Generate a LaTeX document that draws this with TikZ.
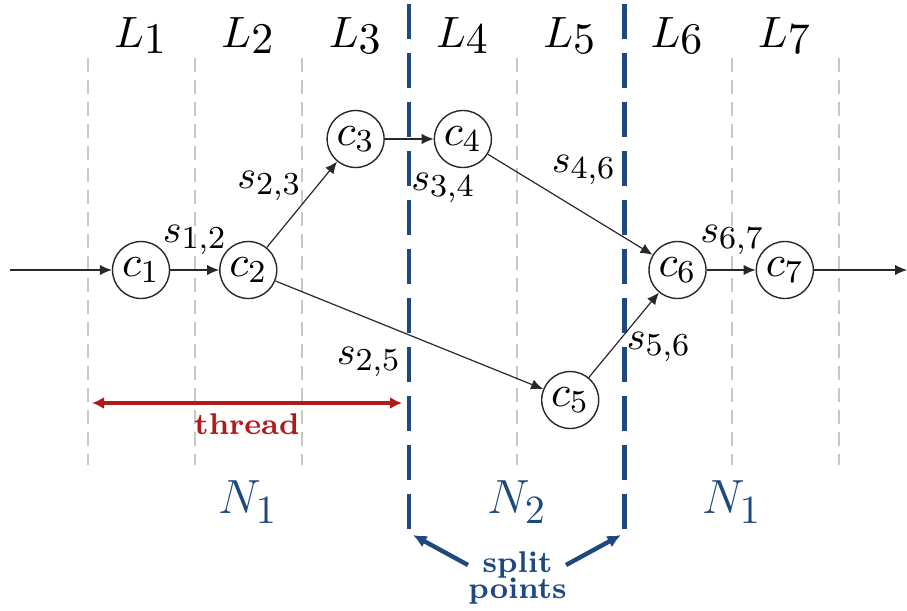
\documentclass[tikz,border=0pt]{standalone}
\DeclareMathSizes{10}{10}{8}{6}
\DeclareMathSizes{12}{12}{10}{7}
\usetikzlibrary{arrows.meta}
\definecolor{dblue}{RGB}{31,73,125}
\definecolor{tred}{RGB}{178,26,26}
\definecolor{lgray}{RGB}{200,200,200}
\definecolor{edgec}{RGB}{40,40,40}
\begin{document}
\begin{tikzpicture}[x=0.25pt,y=-0.25pt,
  comp/.style={circle,draw=edgec,line width=0.35pt,minimum size=14.25pt,inner sep=0pt,font=\fontsize{10.95}{13}\selectfont},
  lbl/.style={inner sep=0pt,font=\fontsize{10}{12}\selectfont},
  layerlbl/.style={inner sep=0pt,anchor=base,font=\fontsize{10.95}{13}\selectfont},
  edge/.style={draw=edgec,line width=0.3pt,-{Latex[length=3pt,width=2.6pt]}},
  layerline/.style={draw=lgray,line width=0.5pt,dash pattern=on 3.6pt off 1.9pt},
  splitline/.style={draw=dblue,line width=1.2pt,dash pattern=on 8.75pt off 3.5pt},
  netlbl/.style={inner sep=0pt,text=dblue,font=\fontsize{12}{14}\selectfont},
  threadarrow/.style={draw=tred,line width=1pt,{Latex[length=3pt,width=3pt]}-{Latex[length=3pt,width=3pt]}},
  splitarrow/.style={draw=dblue,line width=1.1pt,-{Latex[length=3.4pt,width=3.2pt]}},
  boldlbl/.style={inner sep=0pt,font=\fontsize{7.5}{6.7}\selectfont\bfseries}
]
\useasboundingbox (0,0) rectangle (907,610);

% layer separators
\foreach \x in {87.5,194.8,302.1,516.8,731.5,838.8}
  \draw[layerline] (\x,58) -- (\x,465);

% split lines
\coordinate (spA1) at (409,4);
\coordinate (spA2) at (409,533);
\coordinate (spB1) at (624.5,4);
\coordinate (spB2) at (624.5,533);
\draw[splitline] (spA1) -- (spA2);
\draw[splitline] (spB1) -- (spB2);

% layer labels
\foreach \i [evaluate=\i as \x using 141+107.3*(\i-1)] in {1,...,7}
  \node[layerlbl] (L\i) at (\x,47) {$L_{\smash{\textstyle\i}}$};

% components
\node[comp] (c1) at (141,270) {$c_1$};
\node[comp] (c2) at (248.3,270) {$c_2$};
\node[comp] (c3) at (355.6,139) {$c_3$};
\node[comp] (c4) at (462.9,139) {$c_4$};
\node[comp] (c5) at (570.2,400) {$c_5$};
\node[comp] (c6) at (677.5,270) {$c_6$};
\node[comp] (c7) at (784.8,270) {$c_7$};

\coordinate (in) at (10,270);
\coordinate (out) at (907,270);

\draw[edge] (in) -- (c1);
\draw[edge] (c1) -- (c2);
\draw[edge] (c2) -- (c3);
\draw[edge] (c3) -- (c4);
\draw[edge] (c4) -- (c6);
\draw[edge] (c2) -- (c5);
\draw[edge] (c5) -- (c6);
\draw[edge] (c6) -- (c7);
\draw[edge] (c7) -- (out);

% edge labels
\node[lbl] (s12) at (195,240) {$s_{1,2}$};
\node[lbl] (s23) at (269.5,186) {$s_{2,3}$};
\node[lbl] (s34) at (443.5,188) {$s_{3,4}$};
\node[lbl] (s46) at (584,170) {$s_{4,6}$};
\node[lbl] (s67) at (732.5,240) {$s_{6,7}$};
\node[lbl] (s56) at (659,347) {$s_{5,6}$};
\node[lbl] (s25) at (369,362) {$s_{2,5}$};

% thread
\coordinate (thL) at (92,403);
\coordinate (thR) at (402,403);
\draw[threadarrow] (thL) -- (thR);
\node[boldlbl,text=tred] (thr) at (247,424) {thread};

% network labels
\node[netlbl] (n1a) at (248,502) {$N_1$};
\node[netlbl] (n2) at (517,502) {$N_2$};
\node[netlbl] (n1b) at (732,502) {$N_1$};

% split points
\node[boldlbl,text=dblue,align=center] (sp) at (517.5,578) {split\\points};
\coordinate (spLt) at (468,565);
\coordinate (spRt) at (566,565);
\coordinate (spLh) at (413,535);
\coordinate (spRh) at (621,535);
\draw[splitarrow] (spLt) -- (spLh);
\draw[splitarrow] (spRt) -- (spRh);
\end{tikzpicture}
\end{document}
